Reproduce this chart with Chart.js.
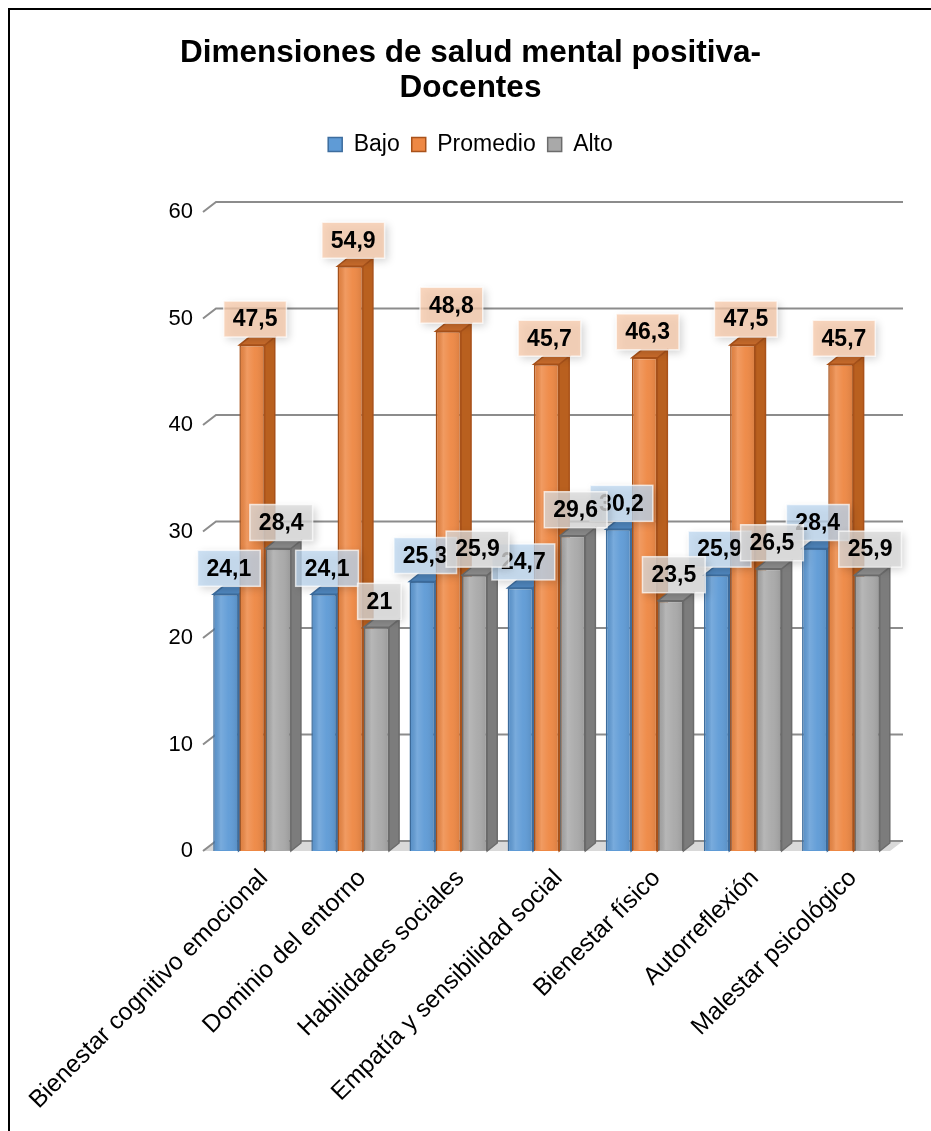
<!DOCTYPE html>
<html lang="es">
<head>
<meta charset="utf-8">
<title>Dimensiones de salud mental positiva - Docentes</title>
<script src="https://cdn.jsdelivr.net/npm/chart.js@4.4.1/dist/chart.umd.min.js"></script>
<style>
    html, body { margin: 0; padding: 0; background: #fff; overflow: hidden; }
    #marco { position: absolute; left: 8px; top: 8px; width: 940px; height: 1140px; border: 2px solid #000; background: #fff; }
    #grafico { position: absolute; left: 0; top: 0; }
</style>
</head>
<body>
<div id="marco">
    <canvas id="grafico" width="921" height="1121"></canvas>
</div>
<script>
// Datos
var categorias = ['Bienestar cognitivo emocional', 'Dominio del entorno', 'Habilidades sociales',
    'Empatía y sensibilidad social', 'Bienestar físico', 'Autorreflexión', 'Malestar psicológico'];
var bajo = [24.1, 24.1, 25.3, 24.7, 30.2, 25.9, 28.4];
var promedio = [47.5, 54.9, 48.8, 45.7, 46.3, 47.5, 45.7];
var alto = [28.4, 21, 25.9, 29.6, 23.5, 26.5, 25.9];
var ticksEjeY = [0, 10, 20, 30, 40, 50, 60];

var fuente = "'Liberation Sans', Arial, sans-serif";

// colores: frente, borde, lado, arriba, etiqueta
var estilos = [
    { frente: '#5f9bd6', borde: '#3d6d9e', lado: '#4377aa', arriba: '#4f86bd', etiqueta: 'rgba(190, 215, 240, 0.78)' },
    { frente: '#ee8844', borde: '#a9521a', lado: '#b9601f', arriba: '#c96c2c', etiqueta: 'rgba(247, 203, 172, 0.78)' },
    { frente: '#a9a9a9', borde: '#6c6c6c', lado: '#7c7c7c', arriba: '#8c8c8c', etiqueta: 'rgba(218, 218, 218, 0.78)' }
];

// profundidad 3D
var fondoX = 13, fondoY = 10;
var barraX = 10, barraY = 8;

// Cuadrícula en perspectiva, piso y caras de las barras
var cuadricula3D = {
    id: 'cuadricula3D',
    beforeDatasetsDraw: function (chart) {
        var ctx = chart.ctx;
        var area = chart.chartArea;
        var ejeY = chart.scales.y;
        ctx.save();
        // piso
        var y0 = ejeY.getPixelForValue(0);
        ctx.fillStyle = '#d9d9d9';
        ctx.beginPath();
        ctx.moveTo(area.left, y0);
        ctx.lineTo(area.right, y0);
        ctx.lineTo(area.right + fondoX, y0 - fondoY);
        ctx.lineTo(area.left + fondoX, y0 - fondoY);
        ctx.closePath();
        ctx.fill();
        ctx.strokeStyle = '#8c8c8c';
        ctx.lineWidth = 2;
        ticksEjeY.forEach(function (v) {
            var y = ejeY.getPixelForValue(v);
            ctx.beginPath();
            ctx.moveTo(area.left, y);
            ctx.lineTo(area.left + fondoX, y - fondoY);
            ctx.lineTo(area.right + fondoX, y - fondoY);
            ctx.stroke();
        });
        // caras laterales y superiores
        chart.data.datasets.forEach(function (ds, i) {
            var meta = chart.getDatasetMeta(i);
            var est = estilos[i];
            meta.data.forEach(function (barra) {
                var izq = barra.x - barra.width / 2;
                var der = barra.x + barra.width / 2;
                var arriba = barra.y;
                var base = barra.base;
                ctx.lineWidth = 1.5;
                ctx.strokeStyle = est.borde;
                ctx.fillStyle = est.lado;
                ctx.beginPath();
                ctx.moveTo(der, arriba);
                ctx.lineTo(der + barraX, arriba - barraY);
                ctx.lineTo(der + barraX, base - barraY);
                ctx.lineTo(der, base);
                ctx.closePath();
                ctx.fill();
                ctx.stroke();
                ctx.fillStyle = est.arriba;
                ctx.beginPath();
                ctx.moveTo(izq, arriba);
                ctx.lineTo(der, arriba);
                ctx.lineTo(der + barraX, arriba - barraY);
                ctx.lineTo(izq + barraX, arriba - barraY);
                ctx.closePath();
                ctx.fill();
                ctx.stroke();
            });
        });
        ctx.restore();
    },
    afterDatasetsDraw: function (chart) {
        // brillo suave sobre la cara frontal
        var ctx = chart.ctx;
        ctx.save();
        chart.data.datasets.forEach(function (ds, i) {
            chart.getDatasetMeta(i).data.forEach(function (barra) {
                var izq = barra.x - barra.width / 2;
                var g = ctx.createLinearGradient(izq, 0, izq + barra.width, 0);
                g.addColorStop(0, 'rgba(0,0,0,0.06)');
                g.addColorStop(0.3, 'rgba(255,255,255,0.16)');
                g.addColorStop(0.6, 'rgba(255,255,255,0.04)');
                g.addColorStop(1, 'rgba(0,0,0,0.10)');
                ctx.fillStyle = g;
                ctx.fillRect(izq + 1, barra.y + 1, barra.width - 2, barra.base - barra.y - 2);
            });
        });
        ctx.restore();
    }
};

// Etiquetas de datos con recuadro
var etiquetas = {
    id: 'etiquetas',
    afterDatasetsDraw: function (chart) {
        var ctx = chart.ctx;
        ctx.save();
        ctx.font = 'bold 23px ' + fuente;
        ctx.textAlign = 'center';
        ctx.textBaseline = 'middle';
        chart.data.datasets.forEach(function (ds, i) {
            var meta = chart.getDatasetMeta(i);
            meta.data.forEach(function (barra, j) {
                var texto = String(ds.data[j]).replace('.', ',');
                var ancho = ctx.measureText(texto).width + 18;
                var alto = 36;
                var cx = barra.x + 3;
                var cy = barra.y - 26;
                ctx.save();
                ctx.shadowColor = 'rgba(0, 0, 0, 0.22)';
                ctx.shadowBlur = 8;
                ctx.shadowOffsetX = 3;
                ctx.shadowOffsetY = 3;
                ctx.fillStyle = estilos[i].etiqueta;
                ctx.fillRect(cx - ancho / 2, cy - alto / 2, ancho, alto);
                ctx.restore();
                ctx.strokeStyle = 'rgba(255, 255, 255, 0.7)';
                ctx.lineWidth = 1.5;
                ctx.strokeRect(cx - ancho / 2, cy - alto / 2, ancho, alto);
                ctx.fillStyle = '#000';
                ctx.fillText(texto, cx, cy + 1);
            });
        });
        ctx.restore();
    }
};

var ctx = document.getElementById('grafico').getContext('2d');
var grafico = new Chart(ctx, {
    type: 'bar',
    data: {
        labels: categorias,
        datasets: [
            { label: 'Bajo', data: bajo, backgroundColor: estilos[0].frente, borderColor: estilos[0].borde, borderWidth: 1.5 },
            { label: 'Promedio', data: promedio, backgroundColor: estilos[1].frente, borderColor: estilos[1].borde, borderWidth: 1.5 },
            { label: 'Alto', data: alto, backgroundColor: estilos[2].frente, borderColor: estilos[2].borde, borderWidth: 1.5 }
        ]
    },
    options: {
        responsive: false,
        animation: false,
        categoryPercentage: 0.8,
        barPercentage: 0.97,
        plugins: {
            title: {
                display: true,
                text: ['Dimensiones de salud mental positiva-', 'Docentes'],
                color: '#000',
                font: { family: fuente, size: 31.5, weight: 'bold', lineHeight: 1.11 },
                padding: { top: 26, bottom: 15 }
            },
            // espacio entre la leyenda y el área del gráfico
            subtitle: {
                display: true,
                text: '',
                weight: 500,
                font: { size: 10, lineHeight: 1 },
                padding: { top: 0, bottom: 36 }
            },
            legend: {
                labels: {
                    color: '#000',
                    font: { family: fuente, size: 23 },
                    boxWidth: 14,
                    boxHeight: 14,
                    padding: 12
                }
            },
            tooltip: { enabled: false }
        },
        scales: {
            x: {
                grid: { display: false },
                border: { display: false },
                ticks: {
                    color: '#000',
                    font: { family: fuente, size: 24.5 },
                    minRotation: 45,
                    maxRotation: 45,
                    labelOffset: 12,
                    padding: 5
                },
                afterFit: function (eje) {
                    eje.height = 280;
                    eje.paddingLeft = 0;
                    eje.paddingRight = 0;
                }
            },
            y: {
                min: ticksEjeY[0],
                max: ticksEjeY[ticksEjeY.length - 1],
                grid: { display: false },
                border: { display: false },
                ticks: {
                    stepSize: 10,
                    color: '#000',
                    font: { family: fuente, size: 22 },
                    padding: 2
                },
                afterFit: function (eje) {
                    eje.width = 193;
                    eje.paddingTop = 0;
                    eje.paddingBottom = 0;
                }
            },
            // margen derecho para la profundidad, sin marcas
            derecha: {
                type: 'linear',
                position: 'right',
                display: true,
                grid: { display: false },
                border: { display: false },
                ticks: { display: false },
                afterFit: function (eje) { eje.width = 41; }
            }
        }
    },
    plugins: [cuadricula3D, etiquetas]
});
</script>
</body>
</html>
